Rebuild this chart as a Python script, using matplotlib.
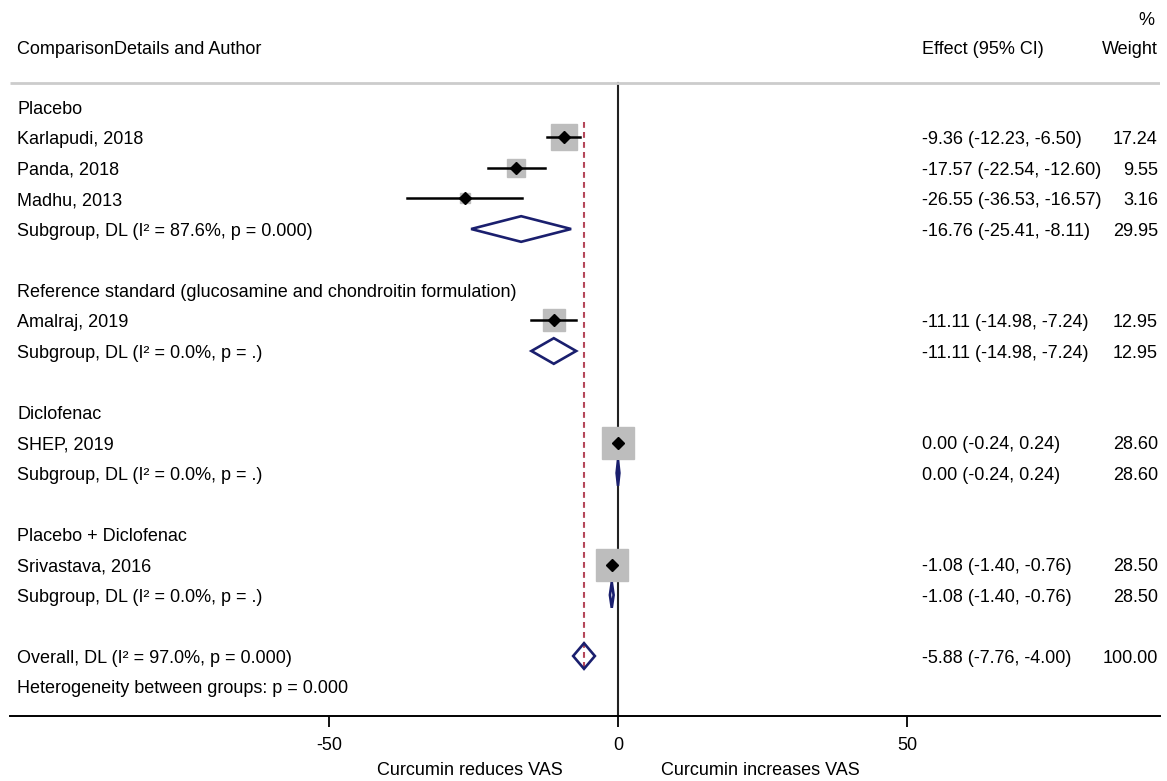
import matplotlib
matplotlib.use("Agg")
import matplotlib.pyplot as plt
from matplotlib.patches import Polygon

plt.rcParams['font.family'] = ['Liberation Sans', 'DejaVu Sans']

# study-level estimates (mean difference in VAS)
groups = ["Placebo",
          "Reference standard (glucosamine and chondroitin formulation)",
          "Diclofenac",
          "Placebo + Diclofenac"]
group_studies = [["Karlapudi, 2018", "Panda, 2018", "Madhu, 2013"],
                 ["Amalraj, 2019"],
                 ["SHEP, 2019"],
                 ["Srivastava, 2016"]]
group_effect = [[-9.36, -17.57, -26.55], [-11.11], [0.00], [-1.08]]
group_lower = [[-12.23, -22.54, -36.53], [-14.98], [-0.24], [-1.40]]
group_upper = [[-6.50, -12.60, -16.57], [-7.24], [0.24], [-0.76]]
group_weight = [[17.24, 9.55, 3.16], [12.95], [28.60], [28.50]]

# subgroup pooled estimates
sub_label = ["Subgroup, DL (I\u00b2 = 87.6%, p = 0.000)",
             "Subgroup, DL (I\u00b2 = 0.0%, p = .)",
             "Subgroup, DL (I\u00b2 = 0.0%, p = .)",
             "Subgroup, DL (I\u00b2 = 0.0%, p = .)"]
sub_effect = [-16.76, -11.11, 0.00, -1.08]
sub_lower = [-25.41, -14.98, -0.24, -1.40]
sub_upper = [-8.11, -7.24, 0.24, -0.76]
sub_weight = [29.95, 12.95, 28.60, 28.50]

overall_label = "Overall, DL (I\u00b2 = 97.0%, p = 0.000)"
overall = (-5.88, -7.76, -4.00, 100.00)
het_label = "Heterogeneity between groups: p = 0.000"

xticks = [-50, 0, 50]

NAVY = "#1a1f6e"
GRAY = "#bdbdbd"
RED = "#b5475a"
FS = 13
DY = 0.07  # nudge text down a touch so it sits on the row centre

fig = plt.figure(figsize=(11.67, 7.81), dpi=100)
ax = fig.add_axes([10 / 1167, 65 / 781, 1150 / 1167, 716 / 781])
ax.set_xlim(-105.19, 93.77)
ax.set_ylim(20.967, -2.508)

x_label = -103.9
x_eff = 52.6
x_wt = 93.4


def fmt_ci(e, lo, hi):
    return f"{e:.2f} ({lo:.2f}, {hi:.2f})"


def diamond(e, lo, hi, y, h=0.42):
    ax.add_patch(Polygon([(lo, y), (e, y - h), (hi, y), (e, y + h)],
                         closed=True, fill=False, edgecolor=NAVY,
                         lw=1.9, zorder=4))


def row_text(y, label, e=None, lo=None, hi=None, w=None):
    y = y + DY
    ax.text(x_label, y, label, fontsize=FS, va="center", ha="left")
    if e is not None:
        ax.text(x_eff, y, fmt_ci(e, lo, hi), fontsize=FS, va="center",
                ha="left")
        ax.text(x_wt, y, f"{w:.2f}", fontsize=FS, va="center", ha="right")


# header
ax.text(x_label, -0.967 + DY, "ComparisonDetails and Author", fontsize=FS,
        va="center", ha="left")
ax.text(x_eff, -0.967 + DY, "Effect (95% CI)", fontsize=FS, va="center",
        ha="left")
ax.text(x_wt, -0.967 + DY, "Weight", fontsize=FS, va="center", ha="right")
ax.text(x_wt - 0.6, -1.92 + DY, "%", fontsize=FS, va="center", ha="right")
ax.plot([-105.19, 93.77], [0.213, 0.213], color="#cccccc", lw=2,
        solid_capstyle="butt")

row = 1
for g in range(len(groups)):
    row_text(row, groups[g])
    row += 1
    for name, e, lo, hi, w in zip(group_studies[g], group_effect[g],
                                  group_lower[g], group_upper[g],
                                  group_weight[g]):
        ax.plot(e, row, marker="s", ms=4.4 * w ** 0.5, color=GRAY,
                mec=GRAY, zorder=2)
        ax.plot([lo, hi], [row, row], color="black", lw=1.8, zorder=3)
        ax.plot(e, row, marker="D", ms=6, color="black", zorder=5)
        row_text(row, name, e, lo, hi, w)
        row += 1
    diamond(sub_effect[g], sub_lower[g], sub_upper[g], row)
    row_text(row, sub_label[g], sub_effect[g], sub_lower[g], sub_upper[g],
             sub_weight[g])
    row += 2

# overall estimate
e, lo, hi, w = overall
diamond(e, lo, hi, row)
row_text(row, overall_label, e, lo, hi, w)
row_text(row + 1, het_label)

# null line and overall effect line
ax.plot([0, 0], [0.213, 20.967], color="#222222", lw=1.5, zorder=1)
ax.plot([e, e], [1.49, row + 0.45], color=RED, lw=1.5,
        dashes=(2.8, 2), zorder=1)

for s in ["top", "left", "right"]:
    ax.spines[s].set_visible(False)
ax.spines["bottom"].set_linewidth(1.4)
ax.set_yticks([])
ax.set_xticks(xticks)
ax.set_xticklabels([str(t) for t in xticks])
ax.tick_params(axis="x", length=8, width=1.3, labelsize=FS, pad=7)

# direction labels below the axis
ax.text(-25.6, 22.75, "Curcumin reduces VAS", fontsize=FS, ha="center",
        va="center", clip_on=False)
ax.text(24.7, 22.75, "Curcumin increases VAS", fontsize=FS, ha="center",
        va="center", clip_on=False)

fig.savefig("out.png", dpi=100)
